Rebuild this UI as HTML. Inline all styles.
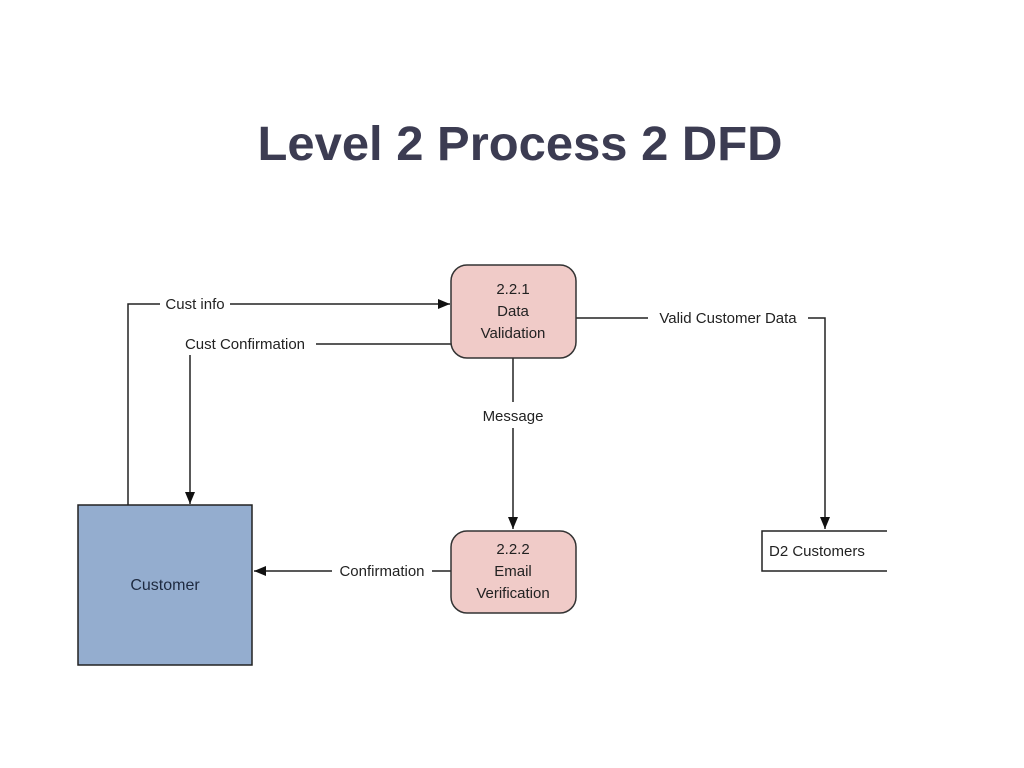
<!DOCTYPE html>
<html><head><meta charset="utf-8"><style>
html,body{margin:0;padding:0;background:#fff;}
svg{display:block;}
</style></head><body>
<svg width="1024" height="768" viewBox="0 0 1024 768" xmlns="http://www.w3.org/2000/svg" font-family="Liberation Sans, sans-serif">
<defs>
<marker id="a" markerWidth="12" markerHeight="10" refX="12" refY="5" orient="auto" markerUnits="userSpaceOnUse">
<path d="M0,0 L12,5 L0,10 z" fill="#111"/>
</marker>
</defs>
<text x="520" y="160" text-anchor="middle" font-size="48" font-weight="bold" fill="#3c3c52" textLength="525" lengthAdjust="spacingAndGlyphs">Level 2 Process 2 DFD</text>

<g stroke="#222" stroke-width="1.5" fill="none">
<!-- Cust info -->
<path d="M128,505 V304 H160"/>
<path d="M230,304 H450" marker-end="url(#a)"/>
<!-- Cust confirmation -->
<path d="M451,344 H316"/>
<path d="M190,355 V504" marker-end="url(#a)"/>
<!-- Message -->
<path d="M513,358 V402"/>
<path d="M513,428 V529" marker-end="url(#a)"/>
<!-- Confirmation -->
<path d="M451,571 H432"/>
<path d="M332,571 H254" marker-end="url(#a)"/>
<!-- Valid Customer Data -->
<path d="M576,318 H648"/>
<path d="M808,318 H825 V529" marker-end="url(#a)"/>
<!-- D2 store -->
<path d="M887,531 H762 V571 H887"/>
</g>

<rect x="78" y="505" width="174" height="160" fill="#94adcf" stroke="#222" stroke-width="1.5"/>
<text x="165" y="590" text-anchor="middle" font-size="16" fill="#1e2a40">Customer</text>

<rect x="451" y="265" width="125" height="93" rx="16" fill="#f0cbc8" stroke="#333" stroke-width="1.5"/>
<text x="513" y="294" text-anchor="middle" font-size="15" fill="#222">2.2.1</text>
<text x="513" y="316" text-anchor="middle" font-size="15" fill="#222">Data</text>
<text x="513" y="338" text-anchor="middle" font-size="15" fill="#222">Validation</text>

<rect x="451" y="531" width="125" height="82" rx="16" fill="#f0cbc8" stroke="#333" stroke-width="1.5"/>
<text x="513" y="554" text-anchor="middle" font-size="15" fill="#222">2.2.2</text>
<text x="513" y="576" text-anchor="middle" font-size="15" fill="#222">Email</text>
<text x="513" y="598" text-anchor="middle" font-size="15" fill="#222">Verification</text>

<g font-size="15" fill="#222">
<text x="195" y="309" text-anchor="middle">Cust info</text>
<text x="245" y="349" text-anchor="middle">Cust Confirmation</text>
<text x="513" y="421" text-anchor="middle">Message</text>
<text x="382" y="576" text-anchor="middle">Confirmation</text>
<text x="728" y="323" text-anchor="middle">Valid Customer Data</text>
<text x="769" y="556">D2 Customers</text>
</g>
</svg>
</body></html>
